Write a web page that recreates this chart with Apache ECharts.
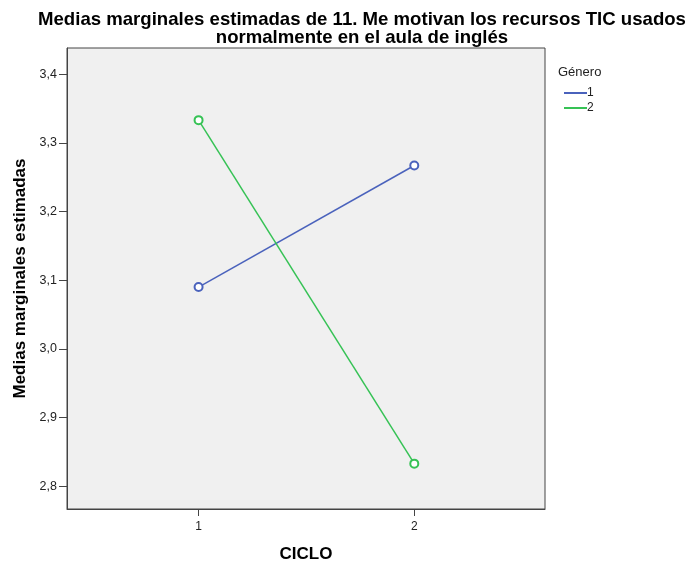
<!DOCTYPE html>
<html><head><meta charset="utf-8">
<script src="https://cdn.jsdelivr.net/npm/echarts@6/dist/echarts.min.js"></script>
<style>html,body{margin:0;padding:0;background:#fff}#c{width:695px;height:569px}</style>
</head><body><div id="c"></div>
<script>
const ciclo = [1, 2];
const genero1 = [3.090, 3.267];
const genero2 = [3.333, 2.833];
const yTicks = [2.8, 2.9, 3.0, 3.1, 3.2, 3.3, 3.4];
const seriesNames = ['1', '2'];
const colors = ['#4A62BC', '#36C255'];

const chart = echarts.init(document.getElementById('c'));
const font = 'Liberation Sans, Arial, sans-serif';
chart.setOption({
  animation: false,
  title: [
    { text: 'Medias marginales estimadas de 11. Me motivan los recursos TIC usados\nnormalmente en el aula de inglés',
      left: 357, top: 6, textAlign: 'center',
      textStyle: { fontFamily: font, fontSize: 18.6, fontWeight: 'bold', color: '#000', lineHeight: 18 } },
    { text: 'Género', left: 553, top: 61,
      textStyle: { fontFamily: font, fontSize: 13, fontWeight: 'normal', color: '#222' } }
  ],
  legend: {
    orient: 'vertical', left: 559, top: 82, itemGap: 3,
    itemWidth: 23, itemHeight: 2, icon: 'rect',
    textStyle: { fontFamily: font, fontSize: 12, color: '#222', padding: [0,0,0,-5] },
    data: seriesNames
  },
  grid: { left: 67, top: 48, right: 150, bottom: 60, show: true, outerBoundsMode: 'none', containLabel: false,
    backgroundColor: '#F0F0F0', borderColor: '#444', borderWidth: 1 },
  xAxis: {
    type: 'value', min: 0.39, max: 2.606,
    name: 'CICLO', nameLocation: 'middle', nameGap: 37,
    nameTextStyle: { fontFamily: font, fontSize: 17, fontWeight: 'bold', color: '#000' },
    axisLine: { show: true, lineStyle: { color: '#444' } },
    axisTick: { show: true, customValues: ciclo, length: 7, lineStyle: { color: '#444' } },
    axisLabel: { customValues: ciclo, fontFamily: font, fontSize: 12, color: '#222', margin: 12 },
    splitLine: { show: false }
  },
  yAxis: {
    type: 'value', min: 2.767, max: 3.438,
    name: 'Medias marginales estimadas', nameLocation: 'middle', nameGap: 37, nameRotate: 90,
    nameTextStyle: { fontFamily: font, fontSize: 17, fontWeight: 'bold', color: '#000' },
    axisLine: { show: true, lineStyle: { color: '#444' } },
    axisTick: { show: true, customValues: yTicks, length: 8, lineStyle: { color: '#444' } },
    axisLabel: { customValues: yTicks, fontFamily: font, fontSize: 12.5, color: '#222', margin: 10,
      formatter: v => v.toFixed(1).replace('.', ',') },
    splitLine: { show: false }
  },
  series: [
    { name: seriesNames[0], type: 'line', data: ciclo.map((c, i) => [c, genero1[i]]),
      color: colors[0], symbol: 'emptyCircle', symbolSize: 8,
      lineStyle: { width: 1.5 }, itemStyle: { borderWidth: 1.2 } },
    { name: seriesNames[1], type: 'line', data: ciclo.map((c, i) => [c, genero2[i]]),
      color: colors[1], symbol: 'emptyCircle', symbolSize: 8,
      lineStyle: { width: 1.5 }, itemStyle: { borderWidth: 1.2 } }
  ]
});
</script></body></html>
